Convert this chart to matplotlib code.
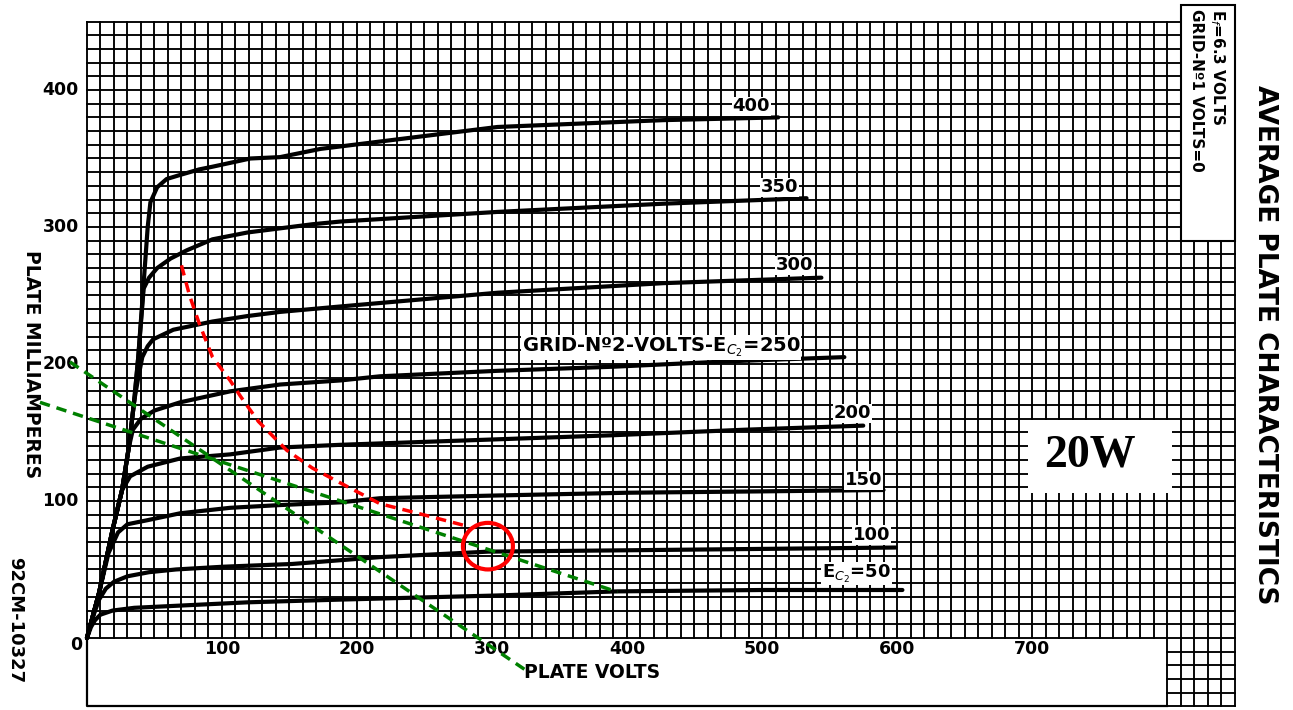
import numpy as np
import matplotlib.pyplot as plt
from matplotlib.patches import Rectangle, Ellipse

# plate characteristics (plate volts, plate mA)
v_50 = [0, 3, 6, 10, 19, 35, 56, 119, 188, 304, 393, 500, 604]
i_50 = [0, 8, 13, 17, 20, 22, 23, 26, 28, 31, 34, 35, 35]

v_100 = [0, 5, 9, 14, 20, 30, 46, 66, 101, 152, 217, 297, 400, 500, 599]
i_100 = [0, 17, 28, 36, 41, 45, 48, 50, 52, 54, 59, 63, 64, 65, 66]

v_150 = [0, 9, 16, 23, 30, 45, 69, 106, 143, 188, 217, 304, 400, 500, 590]
i_150 = [0, 33, 62, 77, 83, 86, 91, 95, 97, 99, 102, 104, 106, 107, 108]

v_200 = [0, 9, 19, 26, 32, 45, 69, 106, 143, 188, 217, 304, 390, 487, 575]
i_200 = [0, 33, 79, 108, 118, 125, 131, 134, 139, 141, 142, 145, 148, 152, 155]

v_250 = [0, 9, 19, 26, 31, 34, 40, 50, 69, 106, 143, 188, 217, 304, 390, 477, 561]
i_250 = [0, 33, 79, 108, 139, 152, 160, 166, 172, 180, 185, 188, 191, 195, 198, 202, 205]

v_300 = [0, 9, 19, 26, 31, 35, 38, 41, 45, 49, 64, 93, 119, 143, 188, 304, 427, 544]
i_300 = [0, 33, 79, 108, 139, 173, 190, 205, 213, 218, 225, 231, 235, 238, 242, 252, 259, 263]

v_350 = [0, 9, 19, 26, 31, 35, 38, 42, 46, 52, 62, 74, 93, 119, 143, 167, 188, 304, 427, 533]
i_350 = [0, 33, 79, 108, 139, 173, 205, 255, 263, 270, 277, 283, 291, 296, 299, 302, 304, 311, 317, 321]

v_400 = [0, 9, 19, 26, 31, 35, 38, 42, 45, 47, 52, 59, 69, 83, 93, 121, 143, 173, 304, 427, 512]
i_400 = [0, 33, 79, 108, 139, 173, 205, 259, 300, 318, 329, 335, 338, 342, 344, 350, 351, 357, 373, 378, 380]

curves = [(v_50, i_50), (v_100, i_100), (v_150, i_150), (v_200, i_200),
          (v_250, i_250), (v_300, i_300), (v_350, i_350), (v_400, i_400)]

# hand drawn 20 W dissipation curve (red) and two load lines (green)
v_20w = [70, 76, 83, 93, 106, 114, 127, 148, 167, 188, 217, 249, 280]
i_20w = [272, 250, 230, 205, 188, 176, 158, 137, 124, 113, 98, 90, 82]
v_load1 = [-12.6, 328]
i_load1 = [201.5, -25.5]
v_load2 = [-34.8, 393]
i_load2 = [172, 33.6]
op_point = (297, 67)

curve_labels = ["400", "350", "300", "GRID-Nº2-VOLTS-E$_{C_2}$=250",
                "200", "150", "100", "E$_{C_2}$=50"]
label_pos = [(492, 388), (513, 329), (524, 272), (322, 212),
             (567, 164), (575, 115), (581, 75), (570, 47)]
x_ticks = [100, 200, 300, 400, 500, 600, 700]
y_ticks = [100, 200, 300, 400]

fig = plt.figure(figsize=(12.93, 7.10), dpi=100)
ax = fig.add_axes([0, 0, 1, 1])
ax.set_xlim(-64.4, 893.3)
ax.set_ylim(-52.6, 465.7)
ax.axis('off')

# graph paper
gw = 1.35
for v in range(0, 851, 10):
    ax.plot([v, v], [0, 450], color='black', lw=gw, zorder=1)
for i in range(0, 451, 10):
    ax.plot([0, 850], [i, i], color='black', lw=gw, zorder=1)
for v in range(800, 851, 10):
    ax.plot([v, v], [-50, 0], color='black', lw=gw, zorder=1)
for i in range(-50, 0, 10):
    ax.plot([800, 850], [i, i], color='black', lw=gw, zorder=1)
ax.plot([0, 0, 800], [0, -50, -50], color='black', lw=1.6, zorder=1)

# conditions box top right
ax.add_patch(Rectangle((810, 290), 40, 172, facecolor='white',
                       edgecolor='black', lw=1.5, zorder=3))
ax.text(837, 459, "E$_f$=6.3 VOLTS", rotation=270, ha='center', va='top',
        fontsize=11, fontweight='bold', zorder=4)
ax.text(822, 459, "GRID-Nº1 VOLTS=0", rotation=270, ha='center', va='top',
        fontsize=11, fontweight='bold', zorder=4)

# tube curves
for v, i in curves:
    ax.plot(v, i, color='black', lw=3, solid_capstyle='round', zorder=2)

for txt, (x, y) in zip(curve_labels, label_pos):
    grid_lbl = txt.startswith("GRID")
    ax.text(x, y, txt, ha='left' if grid_lbl else 'center', va='center',
            fontsize=14 if grid_lbl else 13, fontweight='bold', zorder=4,
            bbox=dict(facecolor='white', edgecolor='none', pad=0.5))

ax.plot(v_20w, i_20w, color='#ff0000', lw=2.5, dashes=(3, 2), zorder=5)
ax.plot(v_load1, i_load1, color='#008000', lw=2.5, dashes=(3, 2), zorder=5)
ax.plot(v_load2, i_load2, color='#008000', lw=2.5, dashes=(3, 2), zorder=5)
ax.add_patch(Ellipse(op_point, 37, 34, facecolor='none', edgecolor='#ff0000',
                     lw=3, zorder=6))

# 20W tag
ax.add_patch(Rectangle((697, 106), 107, 53, facecolor='white',
                       edgecolor='none', zorder=3))
ax.text(743, 133, "20W", ha='center', va='center', fontsize=33,
        fontweight='bold', family='Liberation Serif', zorder=4)

# axis numbers and titles
for x in x_ticks:
    ax.text(x, -8, str(x), ha='center', va='center', fontsize=12.5,
            fontweight='bold')
ax.text(-8, -5, "0", ha='center', va='center', fontsize=12.5,
        fontweight='bold')
for y in y_ticks:
    ax.text(-6, y, str(y), ha='right', va='center', fontsize=12.5,
            fontweight='bold')

ax.text(374, -25.5, "PLATE VOLTS", ha='center', va='center', fontsize=13.5,
        fontweight='bold')
ax.text(-40.7, 200, "PLATE MILLIAMPERES", rotation=270, ha='center',
        va='center', fontsize=13.5, fontweight='bold')
ax.text(-53, 13, "92CM-10327", rotation=270, ha='center', va='center',
        fontsize=13, fontweight='bold')
ax.text(872.6, 214, "AVERAGE PLATE CHARACTERISTICS", rotation=270,
        ha='center', va='center', fontsize=19, fontweight='bold')

plt.savefig("out.png", dpi=100)
